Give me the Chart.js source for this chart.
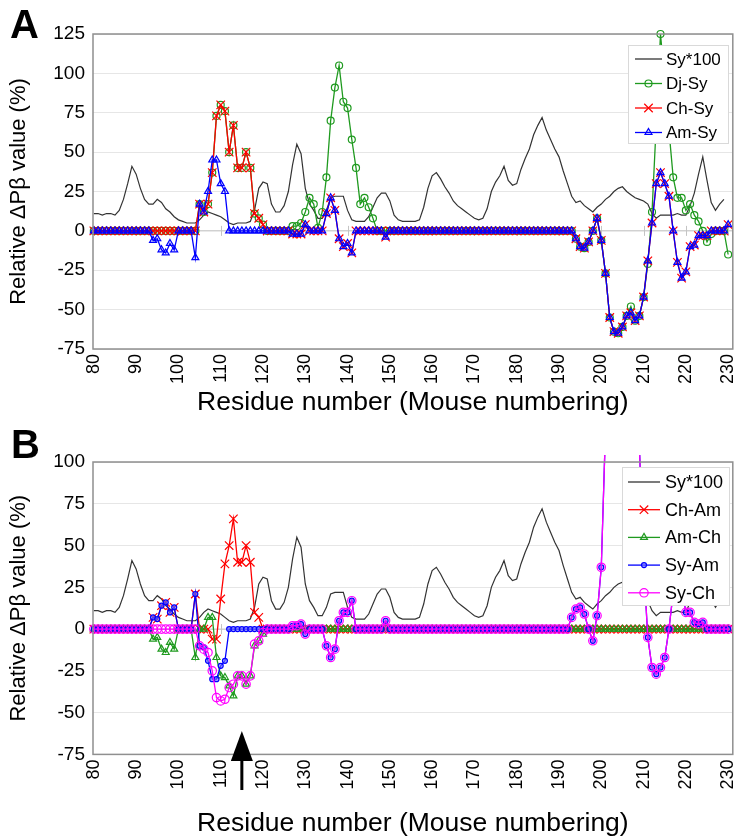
<!DOCTYPE html>
<html>
<head>
<meta charset="utf-8">
<script src="https://cdn.jsdelivr.net/npm/chart.js@4.4.1/dist/chart.umd.min.js"></script>
<style>
  html, body { margin: 0; padding: 0; background: #fff; }
  #wrap { position: relative; width: 740px; height: 840px; }
  canvas { position: absolute; left: 0; }
  #chartA { top: 0; }
  #chartB { top: 420px; }
</style>
</head>
<body>
<div id="wrap">
  <canvas id="chartA" width="740" height="420"></canvas>
  <canvas id="chartB" width="740" height="420"></canvas>
</div>
<script>
// Relative ΔPβ per residue, two panels sharing the Sy*100 trace

const FONT = "'Liberation Sans', Arial, sans-serif";
Chart.defaults.font.family = FONT;
Chart.defaults.color = '#000';

// residue numbers start here, one value per residue
const firstResidue = 80;
const xTickValues = [80, 90, 100, 110, 120, 130, 140, 150, 160, 170, 180, 190, 200, 210, 220, 230];
const yTicksA = [-75, -50, -25, 0, 25, 50, 75, 100, 125];
const yTicksB = [-75, -50, -25, 0, 25, 50, 75, 100];

// Sy*100, residues 80-229
const syTimes100 = [
    11, 11, 10, 11, 11, 10, 13, 20, 30, 41,
    36, 27, 20, 17, 17, 20, 18, 14, 12, 9,
    7, 6, 5, 5, 5, 7, 10, 12, 11, 10,
    9, 7, 5, 4, 5, 5, 5, 6, 13, 27,
    31, 30, 17, 12, 12, 16, 25, 42, 55, 49,
    27, 17, 13, 8, 8, 13, 21, 22, 22, 22,
    13, 7, 6, 6, 6, 9, 15, 21, 24, 24,
    19, 10, 7, 6, 6, 6, 6, 7, 15, 27,
    35, 37, 33, 28, 24, 19, 16, 14, 12, 10,
    8, 7, 8, 14, 25, 31, 35, 41, 32, 29,
    30, 39, 46, 52, 61, 67, 72, 64, 58, 52,
    47, 38, 30, 22, 18, 19, 16, 14, 12, 15,
    17, 20, 22, 25, 27, 28, 25, 23, 21, 20,
    19, 17, 11, 8, 10, 10, 10, 10, 11, 10,
    10, 16, 24, 36, 47, 32, 18, 13, 17, 20
];

// Panel A series, residues 80-230
const djSy = [
    0, 0, 0, 0, 0, 0, 0, 0, 0, 0,
    0, 0, 0, 0, 0, 0, 0, 0, 0, 0,
    0, 0, 0, 0, 0, 17, 12, 17, 37, 73,
    80, 76, 50, 67, 40, 40, 50, 40, 11, 8,
    4, 0, 0, 0, 0, 0, 0, 3, 3, 5,
    12, 21, 17, 2, 12, 34, 70, 91, 105, 82,
    78, 58, 40, 17, 21, 15, 8, 0, 0, 0,
    0, 0, 0, 0, 0, 0, 0, 0, 0, 0,
    0, 0, 0, 0, 0, 0, 0, 0, 0, 0,
    0, 0, 0, 0, 0, 0, 0, 0, 0, 0,
    0, 0, 0, 0, 0, 0, 0, 0, 0, 0,
    0, 0, 0, 0, -5, -10, -11, -7, 0, 8,
    -6, -27, -55, -64, -65, -61, -54, -48, -57, -54,
    -42, -21, 12, 68, 125, 95, 64, 34, 21, 21,
    13, 17, 10, 6, 0, -7, -2, 0, 0, 0,
    -15
];

const chSy = [
    0, 0, 0, 0, 0, 0, 0, 0, 0, 0,
    0, 0, 0, 0, 0, 0, 0, 0, 0, 0,
    0, 0, 0, 0, 0, 17, 12, 17, 37, 73,
    80, 76, 50, 67, 40, 40, 50, 40, 11, 8,
    4, 0, 0, 0, 0, 0, 0, -2, -2, -2,
    4, 0, 0, 0, 0, 11, 21, 13, -5, -10,
    -8, -14, 0, 0, 0, 0, 0, 0, 0, -4,
    0, 0, 0, 0, 0, 0, 0, 0, 0, 0,
    0, 0, 0, 0, 0, 0, 0, 0, 0, 0,
    0, 0, 0, 0, 0, 0, 0, 0, 0, 0,
    0, 0, 0, 0, 0, 0, 0, 0, 0, 0,
    0, 0, 0, 0, -5, -10, -11, -7, 0, 8,
    -6, -27, -55, -64, -65, -61, -54, -52, -57, -54,
    -42, -19, 5, 30, 37, 30, 22, 0, -20, -30,
    -26, -10, -9, -3, -3, -3, 0, 0, 0, 0,
    4
];

const amSy = [
    0, 0, 0, 0, 0, 0, 0, 0, 0, 0,
    0, 0, 0, 0, -6, -5, -12, -14, -8, -12,
    0, 0, 0, 0, -17, 17, 12, 25, 45, 45,
    30, 25, 0, 0, 0, 0, 0, 0, 0, 0,
    0, 0, 0, 0, 0, 0, 0, -2, -2, -2,
    4, 0, 0, 0, 0, 11, 21, 13, -5, -10,
    -8, -14, 0, 0, 0, 0, 0, 0, 0, -4,
    0, 0, 0, 0, 0, 0, 0, 0, 0, 0,
    0, 0, 0, 0, 0, 0, 0, 0, 0, 0,
    0, 0, 0, 0, 0, 0, 0, 0, 0, 0,
    0, 0, 0, 0, 0, 0, 0, 0, 0, 0,
    0, 0, 0, 0, -5, -10, -11, -7, 0, 8,
    -6, -27, -55, -64, -65, -61, -54, -52, -57, -54,
    -42, -19, 5, 30, 37, 30, 22, 0, -20, -30,
    -26, -10, -9, -3, -3, -3, 0, 0, 0, 0,
    4
];

// Panel B series, residues 80-230 (values above 100 run off the top)
const chAm = [
    0, 0, 0, 0, 0, 0, 0, 0, 0, 0,
    0, 0, 0, 0, 7, 6, 14, 16, 10, 13,
    0, 0, 0, 0, 21, 0, 0, 0, -6, -6,
    18, 39, 50, 66, 40, 40, 50, 40, 10, 7,
    0, 0, 0, 0, 0, 0, 0, 0, 0, 0,
    0, 0, 0, 0, 0, 0, 0, 0, 0, 0,
    0, 0, 0, 0, 0, 0, 0, 0, 0, 0,
    0, 0, 0, 0, 0, 0, 0, 0, 0, 0,
    0, 0, 0, 0, 0, 0, 0, 0, 0, 0,
    0, 0, 0, 0, 0, 0, 0, 0, 0, 0,
    0, 0, 0, 0, 0, 0, 0, 0, 0, 0,
    0, 0, 0, 0, 0, 0, 0, 0, 0, 0,
    0, 0, 0, 0, 0, 0, 0, 0, 0, 0,
    0, 0, 0, 0, 0, 0, 0, 0, 0, 0,
    0, 0, 0, 0, 0, 0, 0, 0, 0, 0,
    0
];

const amCh = [
    0, 0, 0, 0, 0, 0, 0, 0, 0, 0,
    0, 0, 0, 0, -6, -5, -12, -14, -8, -12,
    0, 0, 0, 0, -17, 0, 0, 7, 7, -17,
    -28, -29, -34, -40, -28, -28, -33, -28, -10, -7,
    -3, 0, 0, 0, 0, 0, 0, 0, 0, 0,
    0, 0, 0, 0, 0, 0, 0, 0, 0, 0,
    0, 0, 0, 0, 0, 0, 0, 0, 0, 0,
    0, 0, 0, 0, 0, 0, 0, 0, 0, 0,
    0, 0, 0, 0, 0, 0, 0, 0, 0, 0,
    0, 0, 0, 0, 0, 0, 0, 0, 0, 0,
    0, 0, 0, 0, 0, 0, 0, 0, 0, 0,
    0, 0, 0, 0, 0, 0, 0, 0, 0, 0,
    0, 0, 0, 0, 0, 0, 0, 0, 0, 0,
    0, 0, 0, 0, 0, 0, 0, 0, 0, 0,
    0, 0, 0, 0, 0, 0, 0, 0, 0, 0,
    0
];

const syAm = [
    0, 0, 0, 0, 0, 0, 0, 0, 0, 0,
    0, 0, 0, 0, 7, 6, 14, 16, 10, 13,
    0, 0, 0, 0, 21, -10, -11, -19, -30, -30,
    -22, -19, 0, 0, 0, 0, 0, 0, 0, 0,
    0, 0, 0, 0, 0, 0, 0, 2, 2, 3,
    -3, 0, 0, 0, 0, -10, -17, -12, 5, 10,
    10, 17, 0, 0, 0, 0, 0, 0, 0, 5,
    0, 0, 0, 0, 0, 0, 0, 0, 0, 0,
    0, 0, 0, 0, 0, 0, 0, 0, 0, 0,
    0, 0, 0, 0, 0, 0, 0, 0, 0, 0,
    0, 0, 0, 0, 0, 0, 0, 0, 0, 0,
    0, 0, 0, 7, 12, 13, 9, 0, -7, 8,
    37, 120, 330, 420, 450, 430, 390, 360, 280, 110,
    40, -5, -23, -27, -23, -17, 0, 22, 30, 25,
    10, 10, 4, 3, 4, 0, 0, 0, 0, 0,
    0
];

const syCh = [
    0, 0, 0, 0, 0, 0, 0, 0, 0, 0,
    0, 0, 0, 0, 0, 0, 0, 0, 0, 0,
    0, 0, 0, 0, 0, -10, -12, -14, -25, -41,
    -43, -42, -35, -33, -28, -28, -33, -28, -9, -7,
    -2, 0, 0, 0, 0, 0, 0, 2, 2, 3,
    -3, 0, 0, 0, 0, -10, -17, -12, 5, 10,
    10, 17, 0, 0, 0, 0, 0, 0, 0, 5,
    0, 0, 0, 0, 0, 0, 0, 0, 0, 0,
    0, 0, 0, 0, 0, 0, 0, 0, 0, 0,
    0, 0, 0, 0, 0, 0, 0, 0, 0, 0,
    0, 0, 0, 0, 0, 0, 0, 0, 0, 0,
    0, 0, 0, 7, 12, 13, 9, 0, -7, 8,
    37, 120, 330, 420, 450, 430, 390, 360, 280, 110,
    40, -5, -23, -27, -23, -17, 0, 22, 30, 25,
    10, 10, 4, 3, 4, 0, 0, 0, 0, 0,
    0
];

// residue the arrow in panel B points at
const arrowResidue = 115;

// series look: colour + marker
const styles = {
    sy:   { color: '#333333', point: null },
    djSy: { color: '#1f9a1f', point: 'circle', radius: 3.5, fill: 'rgba(255,255,255,0)' },
    chSy: { color: '#ff0000', point: 'crossRot', radius: 6 },
    amSy: { color: '#0000ff', point: 'triangle', radius: 4, fill: 'rgba(0,0,255,0.12)' },
    chAm: { color: '#ff0000', point: 'crossRot', radius: 6 },
    amCh: { color: '#1f9a1f', point: 'triangle', radius: 4, fill: 'rgba(255,255,255,0)' },
    syAm: { color: '#0000ff', point: 'circle', radius: 2.5, fill: 'rgba(110,110,255,0.6)' },
    syCh: { color: '#ff00ff', point: 'circle', radius: 4.2, fill: 'rgba(255,255,255,0)' }
};

function toPoints(values) {
    return values.map((v, i) => ({ x: firstResidue + i, y: v }));
}

function lineDataset(label, values, style, order) {
    return {
        label: label,
        data: toPoints(values),
        order: order,
        borderColor: style.color,
        backgroundColor: style.color,
        borderWidth: style.point ? 1.3 : 1.2,
        tension: 0,
        pointStyle: style.point || 'circle',
        pointRadius: style.point ? style.radius : 0,
        pointHoverRadius: style.point ? style.radius : 0,
        pointBorderColor: style.color,
        pointBackgroundColor: style.fill || 'rgba(0,0,0,0)',
        pointBorderWidth: 1.2,
        clip: { left: 8, right: 8, top: 7, bottom: 8 }
    };
}

function drawMarker(ctx, style, x, y) {
    if (!style.point) return;
    const r = style.radius;
    ctx.save();
    ctx.strokeStyle = style.color;
    ctx.fillStyle = style.fill || 'rgba(0,0,0,0)';
    ctx.lineWidth = 1.2;
    ctx.beginPath();
    if (style.point === 'circle') {
        ctx.arc(x, y, r, 0, Math.PI * 2);
        ctx.fill();
    } else if (style.point === 'triangle') {
        let rad = 0;
        ctx.moveTo(x + Math.sin(rad) * r, y - Math.cos(rad) * r);
        rad += Math.PI * 2 / 3;
        ctx.lineTo(x + Math.sin(rad) * r, y - Math.cos(rad) * r);
        rad += Math.PI * 2 / 3;
        ctx.lineTo(x + Math.sin(rad) * r, y - Math.cos(rad) * r);
        ctx.closePath();
        ctx.fill();
    } else if (style.point === 'crossRot') {
        const d = r * Math.SQRT1_2;
        ctx.moveTo(x - d, y - d); ctx.lineTo(x + d, y + d);
        ctx.moveTo(x - d, y + d); ctx.lineTo(x + d, y - d);
    }
    ctx.stroke();
    ctx.restore();
}

function drawLegend(ctx, lg) {
    ctx.save();
    ctx.fillStyle = '#ffffff';
    ctx.fillRect(lg.left, lg.top, lg.width, lg.height);
    ctx.strokeStyle = '#d9d9d9';
    ctx.lineWidth = 1;
    ctx.strokeRect(lg.left + 0.5, lg.top + 0.5, lg.width, lg.height);
    ctx.font = lg.fontSize + 'px ' + FONT;
    ctx.textBaseline = 'middle';
    ctx.textAlign = 'left';
    lg.items.forEach((item, i) => {
        const y = lg.firstRow + i * lg.rowGap;
        ctx.strokeStyle = item.style.color;
        ctx.lineWidth = 1.3;
        ctx.beginPath();
        ctx.moveTo(lg.lineFrom, y);
        ctx.lineTo(lg.lineTo, y);
        ctx.stroke();
        drawMarker(ctx, item.style, (lg.lineFrom + lg.lineTo) / 2, y);
        ctx.fillStyle = '#000';
        ctx.fillText(item.label, lg.textX, y + 1);
    });
    ctx.restore();
}

function panelPlugin(cfg) {
    return {
        id: 'panel' + cfg.letter,
        beforeDatasetsDraw(chart) {
            const { ctx, chartArea: a, scales: { x, y } } = chart;
            const y0 = y.getPixelForValue(0);
            ctx.save();
            ctx.strokeStyle = '#c4c4c4';
            ctx.lineWidth = 1;
            ctx.beginPath();
            ctx.moveTo(a.left, y0);
            ctx.lineTo(a.right, y0);
            xTickValues.forEach(v => {
                const px = Math.round(x.getPixelForValue(v)) + 0.5;
                ctx.moveTo(px, y0 - 5);
                ctx.lineTo(px, y0 + 5);
            });
            ctx.stroke();
            ctx.restore();
        },
        afterDatasetsDraw(chart) {
            const { ctx, chartArea: a, scales: { x, y } } = chart;
            // plot frame
            ctx.save();
            ctx.strokeStyle = '#8f8f8f';
            ctx.lineWidth = 1.5;
            ctx.strokeRect(a.left, a.top, a.right - a.left, a.bottom - a.top);
            ctx.restore();

            drawLegend(ctx, cfg.legend);

            if (cfg.arrow) {
                const ax = x.getPixelForValue(cfg.arrow.residue);
                const tip = y.getPixelForValue(cfg.arrow.tipValue);
                ctx.save();
                ctx.fillStyle = '#000';
                ctx.beginPath();
                ctx.moveTo(ax, tip);
                ctx.lineTo(ax + 11, tip + 30);
                ctx.lineTo(ax - 11, tip + 30);
                ctx.closePath();
                ctx.fill();
                ctx.fillRect(ax - 1.5, tip + 29, 3, 30);
                ctx.restore();
            }

            ctx.save();
            ctx.font = 'bold 40px ' + FONT;
            ctx.fillStyle = '#000';
            ctx.textBaseline = 'alphabetic';
            ctx.fillText(cfg.letter, cfg.letterX, cfg.letterY);
            ctx.restore();
        }
    };
}

function makeOptions(cfg) {
    return {
        responsive: false,
        animation: false,
        devicePixelRatio: 1,
        events: [],
        layout: { padding: { top: cfg.top, right: 2, left: 0, bottom: 0 } },
        plugins: { legend: { display: false }, tooltip: { enabled: false } },
        scales: {
            x: {
                type: 'linear',
                min: 79.8,
                max: 231.1,
                afterBuildTicks: s => { s.ticks = xTickValues.map(v => ({ value: v })); },
                afterFit: s => { s.height = cfg.xHeight; s.paddingLeft = 0; s.paddingRight = 0; },
                grid: { display: false, drawTicks: false },
                border: { display: false },
                ticks: {
                    autoSkip: false,
                    minRotation: 90,
                    maxRotation: 90,
                    padding: 5,
                    color: '#000',
                    font: { size: 18 }
                },
                title: {
                    display: true,
                    text: 'Residue number (Mouse numbering)',
                    color: '#000',
                    font: { size: 26.5 },
                    padding: { top: 0, bottom: cfg.titleBottom }
                }
            },
            y: {
                min: cfg.yTicks[0],
                max: cfg.yTicks[cfg.yTicks.length - 1],
                afterBuildTicks: s => { s.ticks = cfg.yTicks.map(v => ({ value: v })); },
                afterFit: s => { s.width = 93; s.paddingTop = 0; s.paddingBottom = 0; },
                grid: { color: '#e6e6e6', drawTicks: false },
                border: { display: false },
                ticks: { padding: 8, color: '#000', font: { size: 19 } },
                title: {
                    display: true,
                    text: 'Relative ΔPβ value (%)',
                    color: '#000',
                    font: { size: 22 },
                    padding: { top: 6, bottom: 0 }
                }
            }
        }
    };
}

new Chart(document.getElementById('chartA'), {
    type: 'line',
    data: {
        datasets: [
            lineDataset('Sy*100', syTimes100, styles.sy, 4),
            lineDataset('Dj-Sy', djSy, styles.djSy, 3),
            lineDataset('Ch-Sy', chSy, styles.chSy, 2),
            lineDataset('Am-Sy', amSy, styles.amSy, 1)
        ]
    },
    options: makeOptions({ top: 34, xHeight: 71, titleBottom: 1, yTicks: yTicksA }),
    plugins: [panelPlugin({
        letter: 'A', letterX: 10, letterY: 38,
        legend: {
            left: 628, top: 45, width: 100, height: 98,
            firstRow: 59, rowGap: 24.5, lineFrom: 635, lineTo: 662, textX: 666, fontSize: 17,
            items: [
                { label: 'Sy*100', style: styles.sy },
                { label: 'Dj-Sy', style: styles.djSy },
                { label: 'Ch-Sy', style: styles.chSy },
                { label: 'Am-Sy', style: styles.amSy }
            ]
        }
    })]
});

new Chart(document.getElementById('chartB'), {
    type: 'line',
    data: {
        datasets: [
            lineDataset('Sy*100', syTimes100, styles.sy, 5),
            lineDataset('Ch-Am', chAm, styles.chAm, 4),
            lineDataset('Am-Ch', amCh, styles.amCh, 3),
            lineDataset('Sy-Am', syAm, styles.syAm, 2),
            lineDataset('Sy-Ch', syCh, styles.syCh, 1)
        ]
    },
    options: makeOptions({ top: 42, xHeight: 85.6, titleBottom: 0, yTicks: yTicksB }),
    plugins: [panelPlugin({
        letter: 'B', letterX: 11, letterY: 38,
        arrow: { residue: arrowResidue, tipValue: -61 },
        legend: {
            left: 622, top: 47, width: 107, height: 138,
            firstRow: 62, rowGap: 27.7, lineFrom: 628, lineTo: 660, textX: 665, fontSize: 18,
            items: [
                { label: 'Sy*100', style: styles.sy },
                { label: 'Ch-Am', style: styles.chAm },
                { label: 'Am-Ch', style: styles.amCh },
                { label: 'Sy-Am', style: styles.syAm },
                { label: 'Sy-Ch', style: styles.syCh }
            ]
        }
    })]
});
</script>
</body>
</html>
